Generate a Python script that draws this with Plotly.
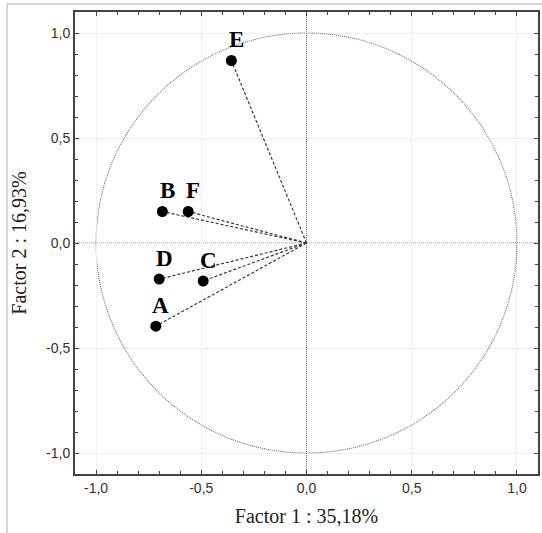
import plotly.graph_objects as go

labels = ["A", "B", "C", "D", "E", "F"]
factor1 = [-0.716, -0.685, -0.491, -0.700, -0.357, -0.562]
factor2 = [-0.396, 0.150, -0.181, -0.172, 0.869, 0.150]

tick_vals = [-1.0, -0.5, 0.0, 0.5, 1.0]
tick_text = ["-1,0", "-0,5", "0,0", "0,5", "1,0"]

fig = go.Figure()

# dashed vectors from origin
for lab, x, y in zip(labels, factor1, factor2):
    fig.add_trace(go.Scatter(x=[0, x], y=[0, y], mode="lines",
                             line=dict(color="#3a3a3a", width=1.2, dash="3px,2px"),
                             hoverinfo="skip", showlegend=False))

fig.add_trace(go.Scatter(x=factor1, y=factor2, mode="markers",
                         marker=dict(color="black", size=11),
                         text=labels, showlegend=False))

for lab, x, y in zip(labels, factor1, factor2):
    fig.add_annotation(x=x, y=y, text="<b>" + lab + "</b>", showarrow=False,
                       xshift=5, yshift=21,
                       font=dict(family="Liberation Serif", size=23, color="black"))

# unit circle
fig.add_shape(type="circle", xref="x", yref="y", x0=-1, y0=-1, x1=1, y1=1,
              line=dict(color="#707070", width=1.1, dash="1px,1px"), layer="below")
# zero lines
fig.add_shape(type="line", xref="x", yref="y", x0=-1.1, x1=1.1, y0=0, y1=0,
              line=dict(color="#777777", width=1, dash="1px,1px"), layer="below")
fig.add_shape(type="line", xref="x", yref="y", x0=0, x1=0, y0=-1.1, y1=1.1,
              line=dict(color="#777777", width=1, dash="1px,1px"), layer="below")
# outer image border
fig.add_shape(type="rect", xref="paper", yref="paper",
              x0=-68/463, x1=1.2, y0=-1.0, y1=1 + 8/462,
              line=dict(color="#aaaaaa", width=1), layer="below")

axis_common = dict(
    range=[-1.1, 1.1], tickvals=tick_vals, ticktext=tick_text, automargin=False,
    showgrid=True, gridcolor="#e2e2e2", griddash="1px,1px", gridwidth=1,
    zeroline=False, showline=True, linecolor="#444444", linewidth=2, mirror="allticks",
    ticks="inside", ticklen=4, tickcolor="#444444",
    minor=dict(dtick=0.1, ticks="inside", ticklen=3, tickcolor="#444444", showgrid=False),
    tickfont=dict(family="Liberation Sans", size=14, color="#333333"),
)

fig.update_layout(
    width=542, height=533,
    margin=dict(l=75, r=4, t=12, b=59),
    plot_bgcolor="white", paper_bgcolor="white",
    xaxis=dict(**axis_common,
               title=dict(text="Factor 1 : 35,18%", standoff=14,
                          font=dict(family="Liberation Serif", size=20, color="#222222"))),
    yaxis=dict(**axis_common,
               title=dict(text="Factor 2 : 16,93%", standoff=14,
                          font=dict(family="Liberation Serif", size=20, color="#222222"))),
)

fig.write_html("out.html", config={"displayModeBar": False},
               post_script="document.body.style.margin='0';document.body.style.overflow='hidden';")
